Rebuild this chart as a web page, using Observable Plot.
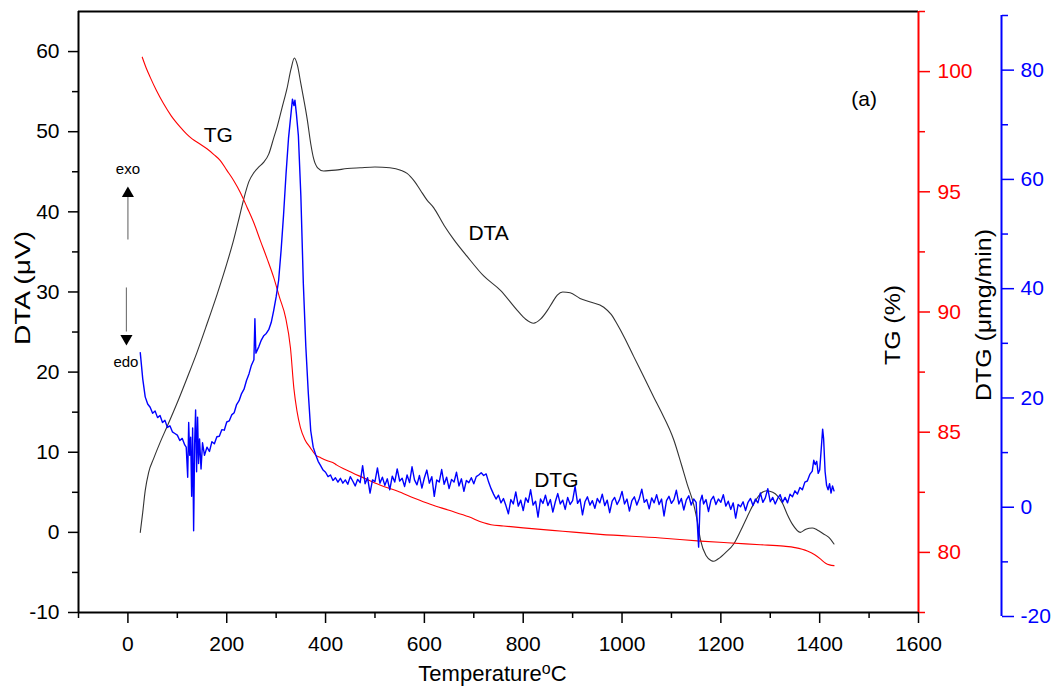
<!DOCTYPE html>
<html><head><meta charset="utf-8">
<script src="https://cdn.jsdelivr.net/npm/d3@7"></script>
<script src="https://cdn.jsdelivr.net/npm/@observablehq/plot@0.6"></script>
<style>
body{margin:0;background:#fff;}
#chart{position:relative;width:1053px;height:693px;font-family:"Liberation Sans",Arial,sans-serif;}
#chart svg{position:absolute;left:0;top:0;overflow:visible;}
</style></head><body><div id="chart"></div>
<script>
// ---- data (temperature °C, value) ----
const dtaPoints = [[25,0],[30,2.5],[35,5.2],[42,7.5],[52,9.2],[65,11.2],[80,13.3],[100,16.2],[120,19.3],[140,22.5],[160,26.0],[181,29.8],[200,33.5],[214,36.5],[225,39.2],[234,41.5],[245,43.8],[255,44.9],[265,45.6],[275,46.2],[285,47.2],[295,49.2],[302,50.6],[312,53.0],[322,55.4],[330,57.8],[337,59.2],[343,58.3],[350,56.0],[356,54.0],[363,51.5],[370,48.5],[376,46.6],[384,45.5],[396,45.1],[420,45.2],[444,45.4],[470,45.5],[500,45.6],[530,45.5],[552,45.2],[565,44.8],[580,43.8],[592,42.7],[605,41.5],[619,40.5],[640,38.3],[660,36.5],[687,34.4],[720,32.0],[754,30.2],[788,27.7],[805,26.6],[821,26.1],[835,26.6],[849,27.7],[860,28.8],[869,29.6],[880,30.0],[895,29.9],[915,29.2],[936,28.75],[963,28.1],[978,27.2],[990,26.0],[1005,24.3],[1024,21.9],[1045,19.3],[1064,16.9],[1078,15.2],[1105,11.5],[1120,8.5],[1132,6.0],[1145,3.5],[1152,1.5],[1159,-1.0],[1170,-2.9],[1180,-3.5],[1186,-3.6],[1195,-3.3],[1210,-2.5],[1226,-1.45],[1240,0.2],[1253,1.9],[1265,3.4],[1280,4.8],[1293,5.2],[1305,5.0],[1314,4.6],[1325,3.6],[1334,2.3],[1345,1.0],[1361,0.0],[1372,0.4],[1385,0.55],[1395,0.3],[1408,-0.2],[1418,-0.6],[1429,-1.45]];

const tgPoints = [[29,100.6],[37,100.15],[45,99.77],[58,99.2],[72,98.67],[88,98.15],[106,97.69],[118,97.42],[130,97.2],[145,97.0],[160,96.79],[174,96.55],[187,96.3],[200,95.9],[214,95.47],[228,94.95],[241,94.36],[255,93.7],[268,92.97],[282,92.2],[295,91.44],[307,90.6],[319,89.78],[329,88.5],[336,86.8],[342,85.9],[349,85.2],[358,84.7],[369,84.36],[380,84.05],[390,83.94],[405,83.8],[418,83.7],[422,83.64],[440,83.45],[477,83.1],[510,82.8],[545,82.55],[580,82.25],[612,82.0],[650,81.75],[690,81.48],[720,81.23],[735,81.15],[760,81.1],[800,81.02],[880,80.88],[956,80.75],[1078,80.6],[1159,80.47],[1213,80.4],[1280,80.32],[1327,80.26],[1350,80.2],[1375,80.06],[1390,79.9],[1402,79.72],[1412,79.55],[1420,79.48],[1429,79.45]];

const dtgPoints = [
[25,28.3],[30,23.5],[35,20.2],[40,18.9],[45,18.3],[50,17.2],[55,17.6],[60,16.4],[65,16.8],[70,15.5],[75,15.9],[80,14.6],[85,14.9],[90,13.8],[95,13.5],[100,13.2],[105,12.2],[110,12.6],[115,11.4],
[118,11.0],[121,5.5],[123,15.5],[125,9.5],[127,12.8],[129,2.0],[131,14.5],[133,-4.3],[135,11.5],[137,17.8],[139,6.5],[141,16.5],[143,8.0],[145,12.5],[148,7.0],[151,11.8],[155,9.5],[160,11.0],
[165,10.2],[170,12.0],[175,11.6],[180,12.9],[185,13.0],[190,14.2],[195,14.1],[200,15.6],[205,15.8],[210,16.9],[215,17.3],[220,18.8],[225,19.5],[230,20.8],[235,21.6],[240,23.2],[245,24.4],[250,26.0],[255,27.0],
[257,34.5],[259,28.2],[265,29.4],[270,30.6],[275,31.4],[280,31.8],[285,32.5],[290,33.8],[295,36.0],[300,38.5],[305,41.5],[310,47.0],[315,53.5],[320,61.0],[325,67.5],[330,72.0],[333,74.7],[336,73.5],[338,74.5],[341,72.0],[345,68.0],[350,57.0],[355,41.0],[360,29.5],[365,21.0],[370,14.0],[375,11.0],[380,9.6],[385,8.4],[390,7.6],[395,6.8],[400,6.4],[405,5.6],[410,5.9],[415,4.9],[420,5.4],
[425,4.6],[430,5.3],[435,4.4],[440,5.0],[445,4.2],[450,5.6],[455,4.8],[460,3.9],[465,5.1],[470,4.5],[475,7.6],[480,4.3],[485,5.4],[490,2.6],[495,5.0],[500,4.7],[505,7.2],[510,4.4],[515,5.5],[520,4.0],[525,5.2],[530,3.2],[535,5.7],[540,4.6],[545,7.0],[550,4.8],[555,5.3],[560,3.8],[565,5.9],[570,4.5],[575,7.4],[580,5.0],[585,4.1],[590,5.8],[595,3.5],[600,5.4],[605,6.8],[610,4.4],[615,5.6],[620,2.0],[625,5.0],[630,4.6],[635,6.9],[640,4.2],[645,5.5],[650,3.4],[655,5.1],[660,4.6],[665,6.4],[670,3.9],[675,5.2],[680,2.9],[685,4.9],[690,4.5],[695,5.4],[700,4.3],[705,5.6],[710,5.9],[715,6.3],[720,5.8],[725,6.1],[730,4.6],[735,3.4],[740,2.4],[745,1.5],[750,2.2],
[755,0.8],[760,1.6],[765,0.3],[770,-1.2],[775,1.4],[780,0.6],[785,2.8],[790,0.2],[795,1.3],[800,-0.6],[805,1.7],[810,0.9],[815,3.2],[820,0.4],[825,1.1],[830,-1.8],[835,1.5],[840,0.7],[845,2.2],[850,0.3],[855,1.4],[860,-0.9],[865,1.0],[870,2.5],[875,0.6],[880,1.3],[885,-0.4],[890,1.8],[895,0.5],[900,1.2],[905,3.8],[910,0.7],[915,1.5],[920,-1.4],[925,1.0],[930,1.9],[935,0.4],[940,1.2],[945,-0.2],[950,1.6],[955,0.8],[960,2.4],[965,0.3],[970,1.3],[975,-1.0],[980,1.1],[985,1.8],[990,0.5],[995,1.4],[1000,2.9],
[1005,0.6],[1010,1.5],[1015,-0.7],[1020,1.2],[1025,1.9],[1030,0.4],[1035,1.6],[1040,3.3],[1045,0.9],[1050,1.4],[1055,-0.3],[1060,1.7],[1065,0.8],[1070,2.3],[1075,0.5],[1080,1.5],[1085,-1.6],[1090,1.2],[1095,2.0],[1100,0.7],[1105,1.4],[1110,3.1],[1115,0.6],[1120,1.6],[1125,-0.5],[1130,1.3],[1135,2.1],[1140,0.4],[1145,1.5],[1150,0.9],[1155,-7.3],[1158,1.0],[1162,2.2],[1165,0.6],[1170,1.4],[1175,-0.8],[1180,1.3],[1185,2.0],[1190,0.5],[1195,1.5],[1200,0.9],
[1205,2.3],[1210,0.2],[1215,1.1],[1220,-0.4],[1225,0.8],[1230,-2.0],[1235,0.5],[1240,0.1],[1245,1.0],[1250,-0.6],[1255,0.9],[1260,1.6],[1265,0.3],[1270,1.5],[1275,0.8],[1280,2.6],[1285,0.9],[1290,1.7],[1295,3.4],[1300,1.0],[1305,1.8],[1310,0.6],[1315,1.6],[1320,2.3],[1325,0.9],[1330,1.8],[1335,0.8],[1340,2.4],[1345,1.9],[1350,3.0],[1355,2.4],[1360,3.6],[1365,3.2],[1370,4.6],[1375,4.8],[1380,6.0],[1385,6.6],[1388,8.6],[1391,7.8],[1394,8.4],[1397,6.2],[1400,6.8],[1403,10.5],[1406,14.3],[1408,12.5],[1411,6.5],[1414,4.0],[1417,3.2],[1420,4.3],[1423,2.6],[1426,3.9],[1429,3.0]];

// ---- ticks ----
const xTicks = [0,200,400,600,800,1000,1200,1400,1600];
const xMinorTicks = [-100,100,300,500,700,900,1100,1300,1500];
const dtaTicks = [-10,0,10,20,30,40,50,60];
const dtaMinorTicks = [-5,5,15,25,35,45,55];
const tgTicks = [80,85,90,95,100];
const tgMinorTicks = [77.5,82.5,87.5,92.5,97.5,102.5];
const dtgTicks = [-20,0,20,40,60,80];
const dtgMinorTicks = [-10,10,30,50,70,90];

// ---- annotations (temperature, DTA value) ----
const curveLabels = [{label:"TG",t:183,v:49.6},{label:"DTA",t:730,v:37.3},{label:"DTG",t:867,v:6.5},{label:"(a)",t:1490,v:54}];
const sideLabels = [{label:"exo",t:0,v:45.3},{label:"edo",t:-4,v:21.2}];
const arrowShafts = [{t:0,v1:36.5,v2:42},{t:-3,v1:30.5,v2:25}];
const arrowHeads = [{t:0,v:42.3,r:0},{t:-3,v:24.2,r:180}];

const dta = dtaPoints.map(([t,v])=>({t,v}));
const tg = tgPoints.map(([t,v])=>({t,v}));
const dtg = dtgPoints.map(([t,v])=>({t,v}));

const W = 1053, H = 693, FONT = "Liberation Sans, Arial, sans-serif";
const common = {
  width: W, height: H, marginLeft: 78, marginRight: 135,
  style: {background: "transparent", fontFamily: FONT, overflow: "visible"}
};
const xScale = {domain: [-100, 1600], label: null};

const p1 = Plot.plot({
  ...common, marginTop: 11, marginBottom: 81,
  x: xScale, y: {domain: [-10, 65], label: null},
  marks: [
    Plot.ruleY([65], {stroke: "#000", strokeWidth: 2}),
    Plot.ruleY([-10], {stroke: "#000", strokeWidth: 2}),
    Plot.ruleX([-100], {stroke: "#000", strokeWidth: 2}),
    Plot.axisX({ticks: xTicks, tickSize: 11, tickPadding: 13, fontSize: 21, strokeWidth: 1.5, label: null, tickFormat: d => String(d)}),
    Plot.axisX({ticks: xMinorTicks, tickSize: 6, strokeWidth: 1.5, label: null, tickFormat: () => ""}),
    Plot.axisY({ticks: dtaTicks, tickSize: 10, tickPadding: 9, fontSize: 21, strokeWidth: 1.5, label: null, tickFormat: d => String(d)}),
    Plot.axisY({ticks: dtaMinorTicks, tickSize: 6, strokeWidth: 1.5, label: null, tickFormat: () => ""}),
    Plot.text(["DTA (μV)"], {frameAnchor: "left", textAnchor: "middle", dx: -56, dy: -24, rotate: -90, fontSize: 22, fill: "#000"}),
    Plot.text(["Temperature°C"], {frameAnchor: "bottom", textAnchor: "middle", dx: -6, dy: 68, fontSize: 22, fill: "#000"}),
    Plot.line(dta, {x: "t", y: "v", stroke: "#333", strokeWidth: 1.1, curve: "monotone-x"}),
    Plot.text(curveLabels, {x: "t", y: "v", text: "label", fontSize: 21, fill: "#000"}),
    Plot.text(sideLabels, {x: "t", y: "v", text: "label", fontSize: 15, fill: "#000"}),
    Plot.ruleX(arrowShafts, {x: "t", y1: "v1", y2: "v2", stroke: "#777", strokeWidth: 1.2}),
    Plot.dot(arrowHeads, {x: "t", y: "v", rotate: "r", symbol: "triangle", r: 4.5, fill: "#000", stroke: "none"})
  ]
});

const p2 = Plot.plot({
  ...common, marginTop: 11, marginBottom: 81,
  x: {...xScale, axis: null}, y: {domain: [77.5, 102.5], label: null},
  marks: [
    Plot.ruleX([1600], {stroke: "#ff0000", strokeWidth: 2}),
    Plot.axisY({anchor: "right", ticks: tgTicks, tickSize: 11, tickPadding: 8, fontSize: 21, color: "#ff0000", strokeWidth: 1.5, label: null, tickFormat: d => String(d)}),
    Plot.axisY({anchor: "right", ticks: tgMinorTicks, tickSize: 6, color: "#ff0000", strokeWidth: 1.5, label: null, tickFormat: () => ""}),
    Plot.text(["TG (%)"], {frameAnchor: "right", textAnchor: "middle", dx: -26, dy: 13, rotate: -90, fontSize: 22, fill: "#000"}),
    Plot.line(tg, {x: "t", y: "v", stroke: "#ff0000", strokeWidth: 1.1, curve: "monotone-x"})
  ]
});

const p3 = Plot.plot({
  ...common, marginTop: 15, marginBottom: 77,
  x: {...xScale, axis: null}, y: {domain: [-20, 90], label: null},
  marks: [
    Plot.ruleX([1600], {y1: -20, y2: 90, dx: 83, stroke: "#0000ff", strokeWidth: 2}),
    Plot.axisY({anchor: "right", dx: 83, ticks: dtgTicks, tickSize: 12, tickPadding: 7, fontSize: 21, color: "#0000ff", strokeWidth: 1.5, label: null, tickFormat: d => String(d)}),
    Plot.axisY({anchor: "right", dx: 83, ticks: dtgMinorTicks, tickSize: 6, color: "#0000ff", strokeWidth: 1.5, label: null, tickFormat: () => ""}),
    Plot.text(["DTG (μmg/min)"], {frameAnchor: "right", textAnchor: "middle", dx: 65, dy: -1, rotate: -90, fontSize: 22, fill: "#000"}),
    Plot.line(dtg, {x: "t", y: "v", stroke: "#0000ff", strokeWidth: 1.4})
  ]
});

const chart = document.getElementById("chart");
chart.append(p1, p2, p3);

// stretch the rotated axis titles to the lengths seen in the original figure
const titleLengths = {"DTA (μV)": 114, "TG (%)": 80, "DTG (μmg/min)": 172};
for (const svg of [p1, p2, p3]) {
  for (const t of svg.querySelectorAll("text")) {
    const len = titleLengths[t.textContent];
    if (len) { t.setAttribute("textLength", len); t.setAttribute("lengthAdjust", "spacingAndGlyphs"); }
  }
}

// superscript "o" in the temperature label, as in the original figure
for (const t of p1.querySelectorAll("text")) {
  if (t.textContent === "Temperature°C") {
    t.textContent = "";
    const ns = "http://www.w3.org/2000/svg";
    const a = document.createElementNS(ns, "tspan"); a.textContent = "Temperature";
    const b = document.createElementNS(ns, "tspan"); b.textContent = "o"; b.setAttribute("dy", "-7"); b.setAttribute("font-size", "16");
    const c = document.createElementNS(ns, "tspan"); c.textContent = "C"; c.setAttribute("dy", "7");
    t.append(a, b, c);
  }
}
</script></body></html>
